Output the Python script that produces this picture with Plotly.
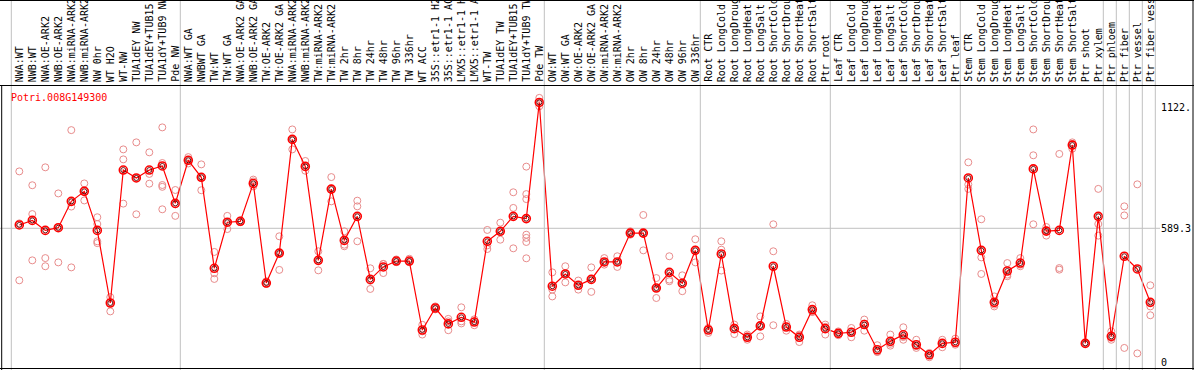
import plotly.graph_objects as go

W, H = 1194, 370

categories = [
    "NWA:WT", "NWB:WT", "NWA:OE-ARK2", "NWB:OE-ARK2", "NWA:miRNA-ARK2", "NWB:miRNA-ARK2",
    "NW 0hr", "WT H2O", "WT-NW", "TUA1dEY NW", "TUA1dEY+TUB15 NW", "TUA1dY+TUB9 NW", "Pde NW",
    "NWA:WT GA", "NWBWT GA", "TW:WT", "TW:WT GA", "NWA:OE-ARK2 GA", "NWB:OE-ARK2 GA",
    "TW:OE-ARK2", "TW:OE-ARK2 GA", "NWA:miRNA-ARK2", "NWB:miRNA-ARK2", "TW:miRNA-ARK2",
    "TW:miRNA-ARK2", "TW 2hr", "TW 8hr", "TW 24hr", "TW 48hr", "TW 96hr", "TW 336hr",
    "WT ACC", "35S::etr1-1 H2O", "35S::etr1-1 ACC", "LMX5::etr1-1 H2O", "LMX5::etr1-1 ACC",
    "WT-TW", "TUA1dEY TW", "TUA1dEY+TUB15 TW", "TUA1dY+TUB9 TW", "Pde TW",
    "OW:WT", "OW:WT GA", "OW:OE-ARK2", "OW:OE-ARK2 GA", "OW:miRNA-ARK2", "OW:miRNA-ARK2",
    "OW 2hr", "OW 8hr", "OW 24hr", "OW 48hr", "OW 96hr", "OW 336hr",
    "Root CTR", "Root LongCold", "Root LongDrought", "Root LongHeat", "Root LongSalt",
    "Root ShortCold", "Root ShortDrought", "Root ShortHeat", "Root ShortSalt", "Ptr root",
    "Leaf CTR", "Leaf LongCold", "Leaf LongDrought", "Leaf LongHeat", "Leaf LongSalt",
    "Leaf ShortCold", "Leaf ShortDrought", "Leaf ShortHeat", "Leaf ShortSalt", "Ptr leaf",
    "Stem CTR", "Stem LongCold", "Stem LongDrought", "Stem LongHeat", "Stem LongSalt",
    "Stem ShortCold", "Stem ShortDrought", "Stem ShortHeat", "Stem ShortSalt",
    "Ptr shoot", "Ptr xylem", "Ptr phloem", "Ptr fiber", "Ptr vessel", "Ptr fiber vessel",
]

means = [
    604, 624, 580, 592, 708, 752, 580, 260, 846, 811, 846, 864, 699,
    889, 814, 413, 616, 620, 787, 348, 480, 981, 862, 448, 762, 536, 642, 364, 419, 445,
    445, 141, 238, 168, 197, 176, 532, 576, 642, 632, 1144,
    334, 388, 338, 364, 441, 441, 568, 568, 326, 395, 347, 492,
    141, 476, 147, 109, 159, 422, 154, 109, 231, 147,
    126, 131, 165, 54, 91, 120, 76, 32, 82, 87,
    811, 492, 263, 401, 436, 851, 577, 580, 956,
    82, 642, 113, 466, 410, 263,
]

replicates = [
    [840, 360, 611], [779, 652, 448], [858, 458, 422], [743, 439, 594], [1022, 685, 417],
    [787, 712, 757], [638, 608, 532, 524], [286, 223, 260], [937, 893, 698], [968, 651, 811],
    [924, 829, 786], [1034, 877, 780, 772, 673], [758, 644, 695],
    [903, 889, 875], [871, 757, 814], [485, 391, 366], [644, 586, 616], [624, 616, 620],
    [804, 796, 774], [356, 344, 345], [554, 406, 481], [1025, 937, 981], [886, 843, 858],
    [488, 404, 452], [815, 708, 764], [576, 517, 510], [711, 686, 532], [413, 322, 358],
    [432, 392, 432], [452, 440, 445], [455, 440, 445], [164, 135, 121], [245, 232, 238],
    [190, 179, 140], [241, 179, 170], [179, 162, 188], [582, 514, 498], [614, 539, 576],
    [748, 679, 501], [861, 740, 718, 561, 547, 529, 457], [1164, 1127, 1142],
    [395, 319, 289], [422, 351, 390], [359, 319, 338], [417, 309, 366], [458, 429, 440],
    [466, 419, 440], [576, 561, 568], [648, 492, 566], [370, 282, 326], [466, 363, 356],
    [382, 312, 346], [541, 439, 495],
    [150, 128, 145], [532, 495, 403], [165, 123, 152], [121, 98, 108], [201, 113, 162],
    [607, 488, 162], [168, 138, 157], [121, 88, 117], [250, 220, 222], [165, 121, 155],
    [135, 118, 126], [150, 109, 133], [187, 138, 169], [74, 44, 45], [121, 72, 80],
    [153, 98, 110], [98, 62, 70], [40, 21, 36], [98, 65, 84], [103, 76, 81],
    [880, 782, 763], [629, 461, 388], [289, 253, 245], [436, 385, 378], [458, 429, 422],
    [1025, 911, 607], [580, 557, 595], [917, 414, 407], [968, 961, 940],
    [85, 80, 82], [763, 608, 557], [135, 106, 98], [686, 646, 62], [783, 38], [338, 245, 206],
]

group_ends = [0, 13, 41, 53, 63, 73, 84, 85, 86, 87, 88]
y_ticks = [0, 589.3, 1122]
y_tick_text = ["0", "589.3", "1122."]
gene = "Potri.008G149300"

xs = list(range(1, len(categories) + 1))
rx, ry = [], []
for i, reps in enumerate(replicates):
    for v in reps:
        rx.append(i + 1)
        ry.append(v)

FONT = "DejaVu Sans Mono"
fig = go.Figure()
fig.add_trace(go.Scatter(x=rx, y=ry, mode="markers",
                         marker=dict(symbol="circle-open", size=7, color="rgb(232,140,140)",
                                     line=dict(width=1)), hoverinfo="skip"))
fig.add_trace(go.Scatter(x=xs, y=means, mode="lines", line=dict(color="#ff0000", width=1.2),
                         hoverinfo="skip"))
fig.add_trace(go.Scatter(x=xs, y=means, mode="markers",
                         marker=dict(symbol="circle-open", size=8, color="#ff0000",
                                     line=dict(width=1.6)), hoverinfo="skip"))
fig.add_trace(go.Scatter(x=xs, y=means, mode="markers",
                         marker=dict(symbol="circle-open", size=5, color="rgb(90,0,0)",
                                     line=dict(width=0.9)), hoverinfo="skip"))

top_px = 85.5
ydom_top = 1 - top_px / H
px_per_unit = 13.0
x0_px = 6.3
x_range = [(0 - x0_px) / px_per_unit, (W - x0_px) / px_per_unit]
ys = 0.2269
y_range = [(362 - H) / ys, (362 - top_px) / ys]

shapes = []
for b in group_ends:
    shapes.append(dict(type="line", xref="x", yref="paper", x0=b + 0.385, x1=b + 0.385,
                       y0=0, y1=1, line=dict(color="rgb(192,192,192)", width=1)))
shapes.append(dict(type="line", xref="paper", yref="y", x0=0, x1=1160 / W, y0=589.3, y1=589.3,
                   line=dict(color="rgb(192,192,192)", width=1), layer="below"))
black = dict(color="black", width=1)
shapes += [
    dict(type="line", xref="paper", yref="paper", x0=0, x1=1, y0=ydom_top, y1=ydom_top, line=black),
    dict(type="line", xref="paper", yref="paper", x0=0, x1=1, y0=1 - 0.5 / H, y1=1 - 0.5 / H, line=black),
    dict(type="line", xref="paper", yref="paper", x0=0, x1=1, y0=1.5 / H, y1=1.5 / H, line=black),
    dict(type="line", xref="paper", yref="paper", x0=1 - 1 / W, x1=1 - 1 / W, y0=0, y1=1, line=black),
    dict(type="line", xref="paper", yref="paper", x0=1.7 / W, x1=1.7 / W, y0=0, y1=ydom_top, line=black),
]

annotations = []
for i, lab in enumerate(categories):
    annotations.append(dict(x=i + 1, xref="x", y=1 - 83 / H, yref="paper", text=lab,
                            textangle=-90, showarrow=False, xanchor="center", yanchor="bottom",
                            font=dict(family=FONT, size=10, color="black"), borderpad=0))
annotations.append(dict(x=9 / W, xref="paper", y=1 - 97 / H, yref="paper", text=gene,
                        showarrow=False, xanchor="left", yanchor="middle",
                        font=dict(family=FONT, size=10, color="#ff0000")))

fig.update_layout(
    width=W, height=H, margin=dict(l=0, r=0, t=0, b=0),
    paper_bgcolor="white", plot_bgcolor="white", showlegend=False,
    shapes=shapes, annotations=annotations,
    xaxis=dict(domain=[0, 1], range=x_range, showgrid=False, zeroline=False,
               showticklabels=False, ticks="", showline=False),
    yaxis=dict(domain=[0, ydom_top], range=y_range, showgrid=False, zeroline=False,
               anchor="free", position=1160 / W, side="right",
               tickvals=y_ticks, ticktext=y_tick_text, ticks="", ticklen=0,
               showline=False,
               tickfont=dict(family=FONT, size=10, color="black")),
)
fig.write_html("out.html", config={"displayModeBar": False},
               post_script="document.body.style.margin='0';document.body.style.overflow='hidden';")
